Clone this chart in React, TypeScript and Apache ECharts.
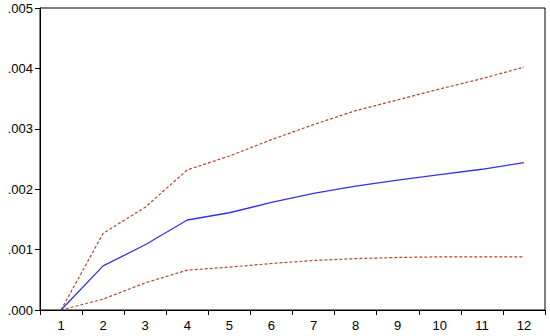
import React, { useEffect, useRef } from "react";
import * as echarts from "echarts";

const categories = ["1", "2", "3", "4", "5", "6", "7", "8", "9", "10", "11", "12"];
const response = [0, 0.00073, 0.00108, 0.00149, 0.00161, 0.00178, 0.00193, 0.00205, 0.00215, 0.00224, 0.00233, 0.00244];
const upperBand = [0, 0.00127, 0.0017, 0.00232, 0.00255, 0.00282, 0.00307, 0.0033, 0.00348, 0.00366, 0.00383, 0.00402];
const lowerBand = [0, 0.00018, 0.00045, 0.00066, 0.00071, 0.00077, 0.00082, 0.00085, 0.00087, 0.00088, 0.00088, 0.00088];

export default function App() {
  const ref = useRef<HTMLDivElement>(null);
  useEffect(() => {
    if (!ref.current) return;
    const chart = echarts.init(ref.current, null, { renderer: "svg" });
    const dashed = {
      type: "line",
      symbol: "none",
      lineStyle: { color: "#b4472c", width: 1.2, type: [3, 2] },
    };
    chart.setOption({
      animation: false,
      backgroundColor: "#fff",
      grid: { left: 40, right: 5, top: 8, bottom: 26, show: true, borderColor: "#000", borderWidth: 1 },
      xAxis: {
        type: "category",
        data: categories,
        boundaryGap: true,
        axisLine: { lineStyle: { color: "#000", width: 1 } },
        axisTick: { show: true, length: 5, lineStyle: { color: "#000" } },
        axisLabel: { color: "#000", fontSize: 13, fontFamily: "Liberation Sans, Arial, sans-serif", margin: 9 },
        splitLine: { show: false },
      },
      yAxis: {
        type: "value",
        min: 0,
        max: 0.005,
        interval: 0.001,
        axisLine: { show: true, lineStyle: { color: "#000", width: 1 } },
        axisTick: { show: true, length: 5, lineStyle: { color: "#000" } },
        axisLabel: {
          color: "#000",
          fontSize: 13,
          fontFamily: "Liberation Sans, Arial, sans-serif",
          margin: 7,
          formatter: (v: number) => v.toFixed(3).replace(/^0/, ""),
        },
        splitLine: { show: false },
      },
      series: [
        { ...dashed, name: "upper", data: upperBand },
        { ...dashed, name: "lower", data: lowerBand },
        {
          type: "line",
          name: "response",
          symbol: "none",
          data: response,
          lineStyle: { color: "#3434e0", width: 1.3 },
        },
      ],
    });
    return () => chart.dispose();
  }, []);
  return (
    <div
      ref={ref}
      style={{ position: "fixed", left: 0, top: 0, width: 550, height: 336 }}
    />
  );
}
